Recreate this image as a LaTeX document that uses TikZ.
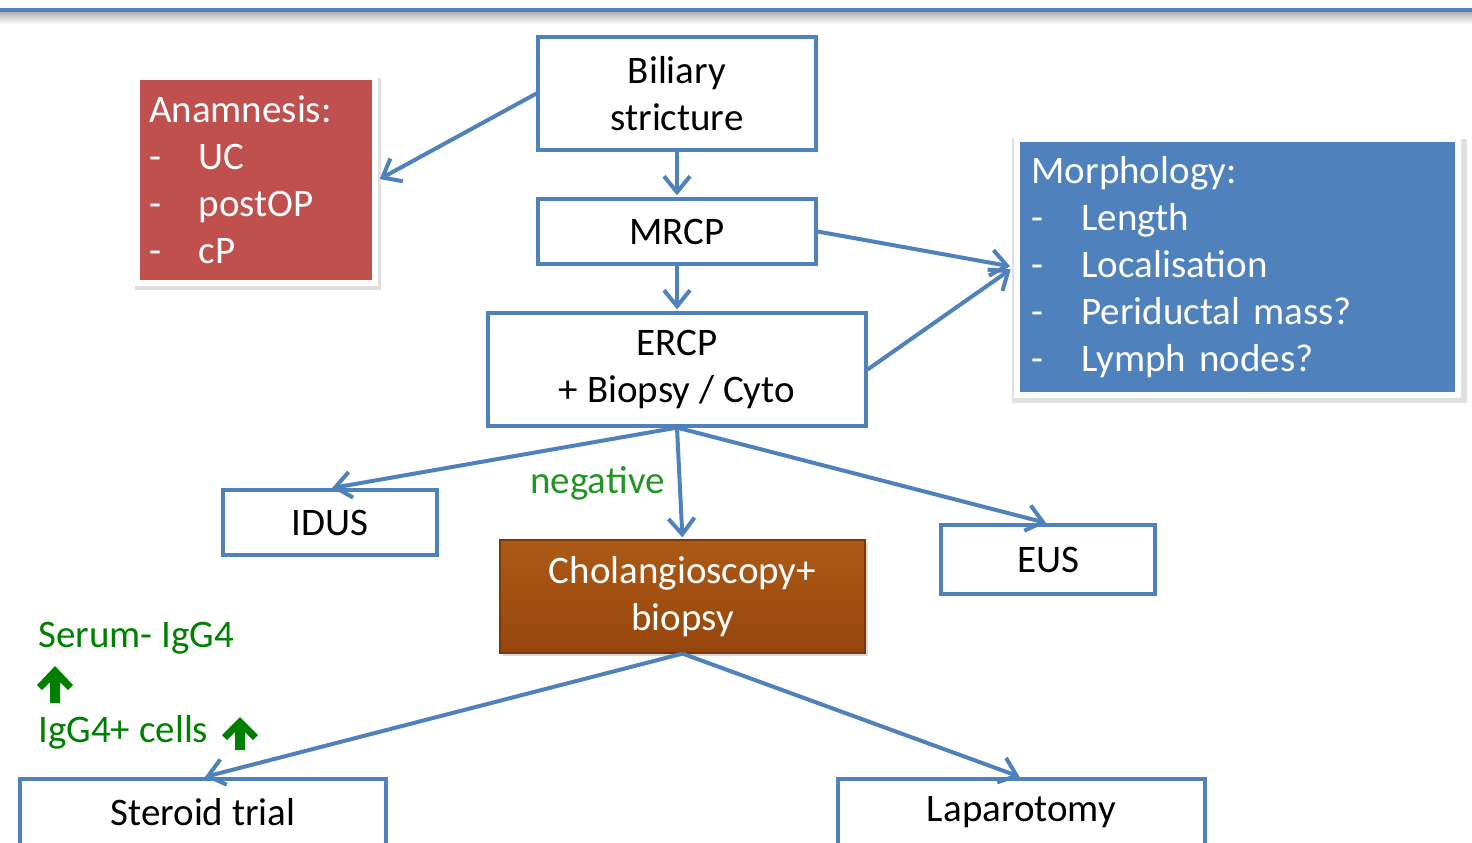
\documentclass[tikz,border=0pt]{standalone}
\usepackage{fontspec}
\setmainfont{Carlito}
\usetikzlibrary{arrows.meta,shadows}
\definecolor{officeblue}{RGB}{79,129,189}
\definecolor{officered}{RGB}{192,80,77}
\definecolor{chollight}{RGB}{172,90,22}
\definecolor{choldark}{RGB}{150,70,12}
\definecolor{neggreen}{RGB}{34,150,34}
\definecolor{igggreen}{RGB}{0,128,0}
\tikzset{
  boxfont/.style={font=\fontsize{19.5pt}{23.5pt}\selectfont},
  flowbox/.style={boxfont, draw=officeblue, line width=1.6pt, fill=white, align=center, inner sep=0pt},
  listbox/.style={boxfont, draw=white, line width=3pt, text=white, align=left,
    drop shadow={shadow xshift=1pt, shadow yshift=-2pt, shadow scale=1.03, opacity=0.25}},
  flowarrow/.style={officeblue, line width=2pt, shorten >=1pt,
    -{Straight Barb[length=8pt,width=13pt,line width=2pt]}},
  greentext/.style={boxfont, anchor=base west, inner sep=0pt}
}
\newcommand{\dashitem}[1]{\makebox[25pt][l]{-}#1}
\begin{document}
\begin{tikzpicture}[x=0.5pt,y=-0.5pt]
\useasboundingbox (0,0) rectangle (1472,842);
\clip (0,0) rectangle (1472,842);
% header rule
\shade[top color=black!30, bottom color=white] (0,12) rectangle (1472,24);
\draw[officeblue, line width=2pt] (0,10) -- (1472,10);
% main column
\node[flowbox, minimum width=139pt, minimum height=56.5pt] (bil) at (677,93.5) {Biliary\\stricture};
\node[flowbox, minimum width=139pt, minimum height=32.5pt] (mrcp) at (677,231.5) {MRCP};
\node[flowbox, minimum width=189pt, minimum height=56.5pt] (ercp) at (677,369.5) {ERCP\\+ Biopsy / Cyto};
\node[flowbox, minimum width=107pt, minimum height=32.5pt] (idus) at (330,522.5) {IDUS};
\node[flowbox, minimum width=107pt, minimum height=34.5pt] (eus) at (1048,559.5) {EUS};
\node[boxfont, text=white, align=center, draw=choldark!80!black, line width=0.6pt,
  top color=chollight, bottom color=choldark, minimum width=182.5pt, minimum height=56.5pt,
  drop shadow={shadow xshift=1.5pt, shadow yshift=-1.5pt, opacity=0.3}] (chol) at (682.5,596.5) {Cholangioscopy+\\biopsy};
\node[flowbox, minimum width=183pt, minimum height=33pt] (ster) at (203,812) {Steroid trial};
\node[flowbox, minimum width=183.5pt, minimum height=33pt] (lap) at (1021.5,812) {Laparotomy};
% side boxes
\node[listbox, fill=officered, minimum width=119pt, minimum height=103pt, text width=107pt, inner xsep=6pt] (anam) at (256,180)
  {Anamnesis:\\\dashitem{UC}\\\dashitem{postOP}\\\dashitem{cP}};
\node[listbox, fill=officeblue, minimum width=220.5pt, minimum height=128pt, text width=206pt, inner xsep=7pt] (morph) at (1237.5,267)
  {Morphology:\\\dashitem{Length}\\\dashitem{Localisation}\\\dashitem{Periductal mass?}\\\dashitem{Lymph nodes?}};
% labels
\node[greentext, text=neggreen] (neg) at (530,493) {negative};
\node[greentext, text=igggreen] (serum) at (38,647) {Serum- IgG4};
\node[greentext, text=igggreen] (cells) at (38,742) {IgG4+ cells};
\fill[igggreen, shift={(55,703)}] (-5,0) -- (5,0) -- (5,-21) -- (13,-13) -- (18,-18) -- (0,-37) -- (-18,-18) -- (-13,-13) -- (-5,-21) -- cycle;
\fill[igggreen, shift={(240,750)}] (-5,0) -- (5,0) -- (5,-18) -- (13,-10) -- (18,-15) -- (0,-33) -- (-18,-15) -- (-13,-10) -- (-5,-18) -- cycle;
% connectors
\draw[flowarrow] (bil.west) -- (anam.east);
\draw[flowarrow] (bil.south) -- (mrcp.north);
\draw[flowarrow] (mrcp.south) -- (ercp.north);
\draw[flowarrow, shorten >=2pt] (mrcp.east) -- (morph.west);
\draw[flowarrow, shorten >=2pt] (ercp.east) -- (morph.west);
\draw[flowarrow] (ercp.south) -- (idus.north);
\draw[flowarrow] (ercp.south) -- (chol.north);
\draw[flowarrow] (ercp.south) -- (eus.north);
\draw[flowarrow] (chol.south) -- (ster.north);
\draw[flowarrow] (chol.south) -- (lap.north);
\end{tikzpicture}
\end{document}
